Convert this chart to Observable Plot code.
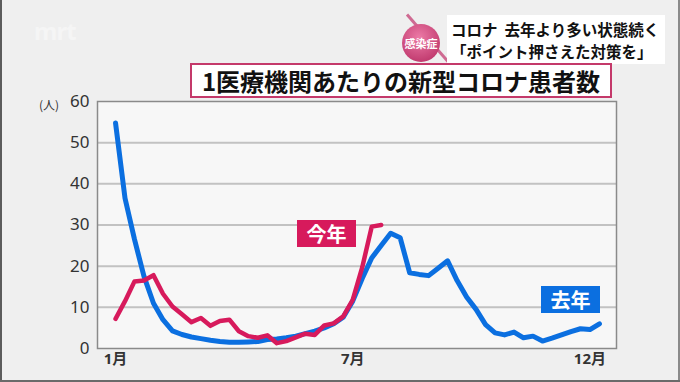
<!DOCTYPE html>
<html><head><meta charset="utf-8">
<script src="https://cdn.jsdelivr.net/npm/d3@7"></script>
<script src="https://cdn.jsdelivr.net/npm/@observablehq/plot@0.6"></script>
<style>
body{margin:0;}
#wrap{position:relative;width:680px;height:382px;background:#efefef;overflow:hidden;font-family:"Noto Sans CJK JP","Noto Sans",sans-serif;}
#chart{position:absolute;left:0;top:0;}
.abs{position:absolute;}
.bl{left:0;top:0;width:2px;height:382px;background:#5c5c5c;}
.br{left:678px;top:0;width:2px;height:382px;background:#8a8a8a;}
.bb{left:0;top:380px;width:680px;height:2px;background:#6a6a6a;}
.mrt{left:34px;top:14px;font:bold 24px "Noto Sans",sans-serif;color:#f5f5f5;letter-spacing:-1px;}
.pin{left:407px;top:13px;width:72px;height:3px;background:#cf6a92;transform-origin:0 50%;transform:rotate(49deg);}
.circ{left:402px;top:24px;width:38px;height:38px;border-radius:50%;background:radial-gradient(circle at 45% 35%,#ec7aa6,#c23c70 75%);color:#fff;font-weight:bold;font-size:11px;line-height:38px;text-align:center;}
.cap{left:447px;top:15px;width:218px;height:49px;background:#fff;box-sizing:border-box;padding:3px 0 0 4px;font-weight:bold;font-size:15.5px;line-height:22px;color:#111;white-space:nowrap;}
.title{left:190px;top:63px;width:422px;height:35px;background:#fff;border:2px solid #c4396a;box-sizing:border-box;font-weight:bold;font-size:24px;line-height:31px;text-align:center;color:#111;white-space:nowrap;}
.unit{left:39px;top:96px;font-size:12px;color:#333;}
.lab{height:27px;width:59px;color:#fff;font-weight:bold;font-size:20px;line-height:27px;text-align:center;}
.now{left:297px;top:220px;background:#d71a5c;}
.prev{left:541px;top:286px;background:#0b6fe0;}
</style></head><body>
<div id="wrap">
<div id="chart"></div>
<div class="abs bl"></div><div class="abs br"></div><div class="abs bb"></div>
<div class="abs mrt">mrt</div>
<div class="abs pin"></div>
<div class="abs circ">感染症</div>
<div class="abs cap">コロナ&nbsp;&nbsp;去年より多い状態続く<br>「ポイント押さえた対策を」</div>
<div class="abs title">1医療機関あたりの新型コロナ患者数</div>
<div class="abs unit">(人)</div>
<div class="abs lab now">今年</div>
<div class="abs lab prev">去年</div>
</div>
<script>
// weekly values (patients per medical institution)
const lastYear = [54.8, 36.5, 26.5, 17.5, 11.0, 7.0, 4.3, 3.4, 2.8, 2.4, 2.0, 1.7, 1.5, 1.5, 1.6, 1.7,
  2.2, 2.3, 2.6, 3.0, 3.6, 4.2, 5.0, 6.0, 7.6, 11.5, 17.0, 22.0, 25.0, 28.0, 26.9, 18.4, 18.0, 17.7,
  19.5, 21.3, 16.5, 12.5, 9.5, 5.8, 3.8, 3.3, 4.0, 2.6, 3.0, 1.8, 2.5, 3.3, 4.1, 4.8, 4.6, 6.0];
const thisYear = [7.2, 11.5, 16.3, 16.5, 17.8, 13.3, 10.2, 8.3, 6.4, 7.4, 5.5, 6.7, 7.0, 4.2, 3.0,
  2.6, 3.2, 1.3, 1.8, 2.7, 3.6, 3.3, 5.6, 6.1, 7.8, 11.8, 19.7, 29.6, 30.0];
const monthTicks = [0, 25, 50];
const monthLabels = ["1月", "7月", "12月"];
const yTicks = [0, 10, 20, 30, 40, 50, 60];
const gridValues = [10, 20, 30, 40, 50];

const prevData = lastYear.map((v, i) => ({week: i, value: v}));
const nowData = thisYear.map((v, i) => ({week: i, value: v}));

const chart = Plot.plot({
  width: 680,
  height: 382,
  marginLeft: 97,
  marginRight: 64,
  marginTop: 101,
  marginBottom: 34,
  style: {background: "transparent", fontFamily: "'Noto Sans','Noto Sans CJK JP',sans-serif", color: "#333"},
  x: {domain: [-1.9, 52.8]},
  y: {domain: [0, 60]},
  marks: [
    Plot.frame({fill: "#f7f7f7", stroke: "none"}),
    Plot.ruleY(gridValues, {stroke: "#c2c2c2", strokeWidth: 2}),
    Plot.frame({stroke: "#8a8a8a", strokeWidth: 1.5}),
    Plot.axisY({ticks: yTicks, tickSize: 0, tickPadding: 8, fontSize: 17, label: null}),
    Plot.axisX({ticks: monthTicks, tickFormat: (d, i) => monthLabels[i], tickSize: 0, tickPadding: 5,
      fontSize: 15, fontWeight: "bold", label: null}),
    Plot.line(prevData, {x: "week", y: "value", stroke: "#0b6fe0", strokeWidth: 5,
      strokeLinejoin: "round", strokeLinecap: "round"}),
    Plot.line(nowData, {x: "week", y: "value", stroke: "#d71a5c", strokeWidth: 4.5,
      strokeLinejoin: "round", strokeLinecap: "round"})
  ]
});
document.getElementById("chart").appendChild(chart);
</script>
</body></html>
